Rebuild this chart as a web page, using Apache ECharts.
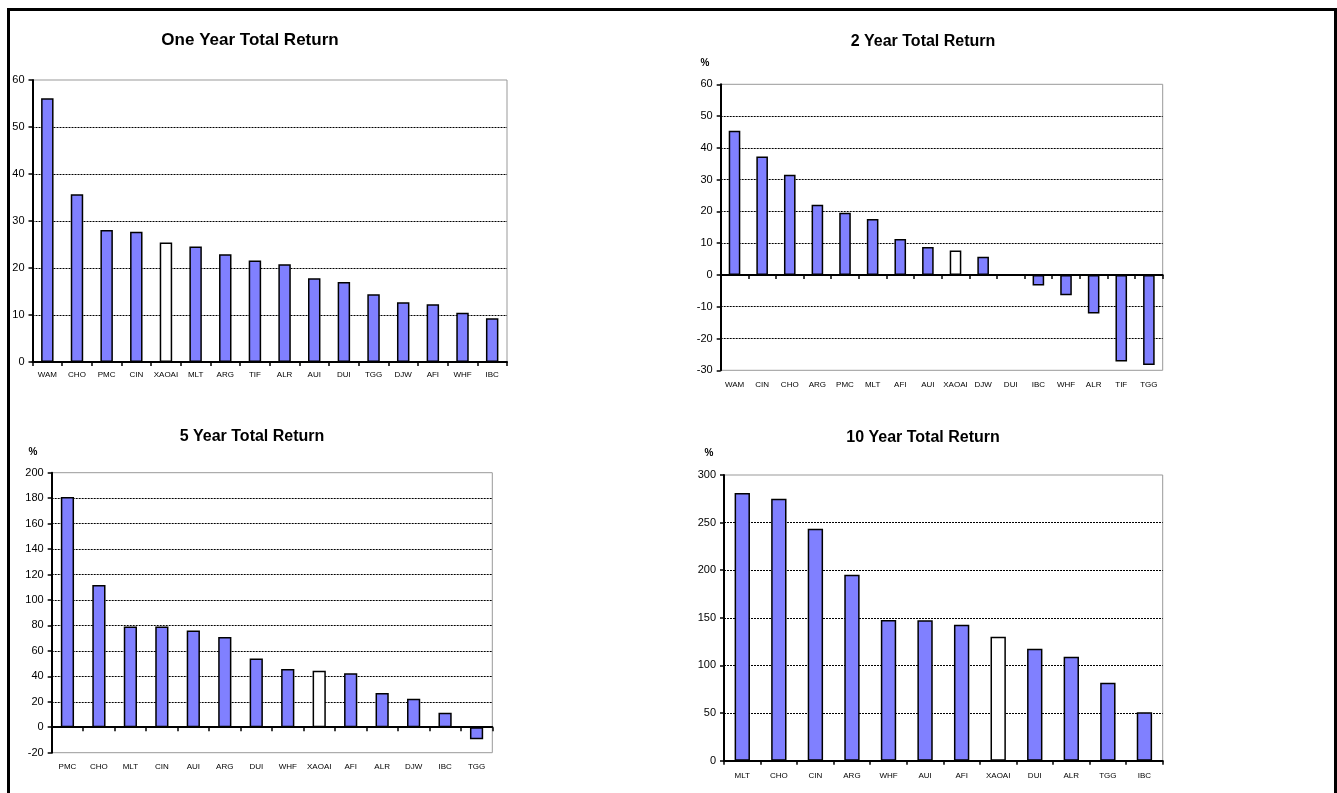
<!DOCTYPE html>
<html>
<head>
<meta charset="utf-8">
<script src="https://cdn.jsdelivr.net/npm/echarts@6/dist/echarts.min.js"></script>
<style>
html,body{margin:0;padding:0;background:#fff;}
#c{width:1337px;height:793px;}
</style>
</head>
<body>
<div id="c"></div>
<script>
// ---- Data ----
const oneYearCats = ['WAM','CHO','PMC','CIN','XAOAI','MLT','ARG','TIF','ALR','AUI','DUI','TGG','DJW','AFI','WHF','IBC'];
const oneYearVals = [56.1, 35.7, 28.1, 27.7, 25.4, 24.6, 22.9, 21.6, 20.8, 17.8, 17.0, 14.4, 12.7, 12.3, 10.5, 9.3];

const twoYearCats = ['WAM','CIN','CHO','ARG','PMC','MLT','AFI','AUI','XAOAI','DJW','DUI','IBC','WHF','ALR','TIF','TGG'];
const twoYearVals = [45.4, 37.3, 31.5, 22.1, 19.6, 17.6, 11.3, 8.8, 7.7, 5.7, 0.1, -3.3, -6.4, -12.1, -27.2, -28.3];

const fiveYearCats = ['PMC','CHO','MLT','CIN','AUI','ARG','DUI','WHF','XAOAI','AFI','ALR','DJW','IBC','TGG'];
const fiveYearVals = [181.0, 111.8, 79.1, 79.2, 76.0, 71.0, 54.0, 45.8, 44.3, 42.4, 27.0, 22.3, 11.3, -9.4];

const tenYearCats = ['MLT','CHO','CIN','ARG','WHF','AUI','AFI','XAOAI','DUI','ALR','TGG','IBC'];
const tenYearVals = [281.1, 275.1, 243.6, 195.3, 147.7, 147.4, 142.8, 130.2, 117.6, 109.2, 81.9, 50.8];

const titles = ['One Year Total Return', '2 Year Total Return', '5 Year Total Return', '10 Year Total Return'];
const yTickMin = [0, -30, -20, 0];
const yTickMax = [60, 60, 200, 300];
const yTickStep = [10, 10, 20, 50];
const benchmark = 'XAOAI';

// ---- Layout / style ----
const FONT = '"Liberation Sans", Arial, sans-serif';
const BAR = '#8080FF';
const panels = [
  {cats: oneYearCats, vals: oneYearVals, grid: {left: 32.5, right: 830, top: 80, bottom: 431}, labelMargin: 9, title: [250, 40], titleSize: 17, pct: null},
  {cats: twoYearCats, vals: twoYearVals, grid: {left: 720.7, right: 174.3, top: 84.3, bottom: 422.7}, labelMargin: 10, title: [923, 42], titleSize: 16, pct: [705, 63]},
  {cats: fiveYearCats, vals: fiveYearVals, grid: {left: 51.7, right: 844.7, top: 472.7, bottom: 40.3}, labelMargin: 10, title: [252, 437], titleSize: 16, pct: [33, 452]},
  {cats: tenYearCats, vals: tenYearVals, grid: {left: 724, right: 174.3, top: 475, bottom: 32.3}, labelMargin: 11, title: [923, 438], titleSize: 16, pct: [709, 453]}
];

const grid = [], xAxis = [], yAxis = [], series = [], graphic = [];

panels.forEach((p, i) => {
  grid.push(Object.assign({show: true, borderColor: '#999', borderWidth: 1, backgroundColor: 'transparent', containLabel: false}, p.grid));
  // label axis at bottom of plot
  xAxis.push({
    type: 'category', gridIndex: i, data: p.cats, position: 'bottom',
    axisLine: {show: false, onZero: false},
    axisTick: {show: false},
    axisLabel: {color: '#000', fontSize: 8, fontFamily: FONT, margin: p.labelMargin, interval: 0},
    splitLine: {show: false}
  });
  // zero axis line with ticks
  xAxis.push({
    type: 'category', gridIndex: i, data: p.cats, position: 'bottom',
    axisLine: {show: true, onZero: true, lineStyle: {color: '#000', width: 2}},
    axisTick: {show: true, interval: 0, length: 4, lineStyle: {color: '#000', width: 1.5}},
    axisLabel: {show: false, interval: 0},
    splitLine: {show: false}
  });
  yAxis.push({
    type: 'value', gridIndex: i, min: yTickMin[i], max: yTickMax[i], interval: yTickStep[i],
    axisLine: {show: true, onZero: false, lineStyle: {color: '#000', width: 2}},
    axisTick: {show: true, length: 4, lineStyle: {color: '#000', width: 1.5}},
    axisLabel: {color: '#000', fontSize: 11, fontFamily: FONT, margin: 8},
    splitLine: {show: true, showMinLine: false, showMaxLine: false, lineStyle: {color: '#000', width: 1, type: [2, 1]}}
  });
  series.push({
    type: 'bar', xAxisIndex: i * 2, yAxisIndex: i, barWidth: '42%',
    data: p.vals.map((v, k) => ({
      value: v,
      itemStyle: {color: p.cats[k] === benchmark ? '#FFFFFF' : BAR, borderColor: '#000', borderWidth: 1.5}
    })),
    animation: false
  });
  graphic.push({
    type: 'text', x: p.title[0], y: p.title[1],
    style: {text: titles[i], fontSize: p.titleSize, fontWeight: 'bold', fontFamily: FONT, fill: '#000', textAlign: 'center', textVerticalAlign: 'middle'}
  });
  if (p.pct) {
    graphic.push({
      type: 'text', x: p.pct[0], y: p.pct[1],
      style: {text: '%', fontSize: 10, fontWeight: 'bold', fontFamily: FONT, fill: '#000', textAlign: 'center', textVerticalAlign: 'middle'}
    });
  }
});

// outer frame (top, left, right)
graphic.push({type: 'line', shape: {x1: 7, y1: 9.5, x2: 1336, y2: 9.5}, style: {stroke: '#000', lineWidth: 3}});
graphic.push({type: 'line', shape: {x1: 8.5, y1: 8, x2: 8.5, y2: 800}, style: {stroke: '#000', lineWidth: 3}});
graphic.push({type: 'line', shape: {x1: 1335.5, y1: 8, x2: 1335.5, y2: 800}, style: {stroke: '#000', lineWidth: 3}});

const chart = echarts.init(document.getElementById('c'), null, {renderer: 'canvas'});
chart.setOption({
  animation: false,
  backgroundColor: '#fff',
  grid, xAxis, yAxis, series, graphic
});
</script>
</body>
</html>
